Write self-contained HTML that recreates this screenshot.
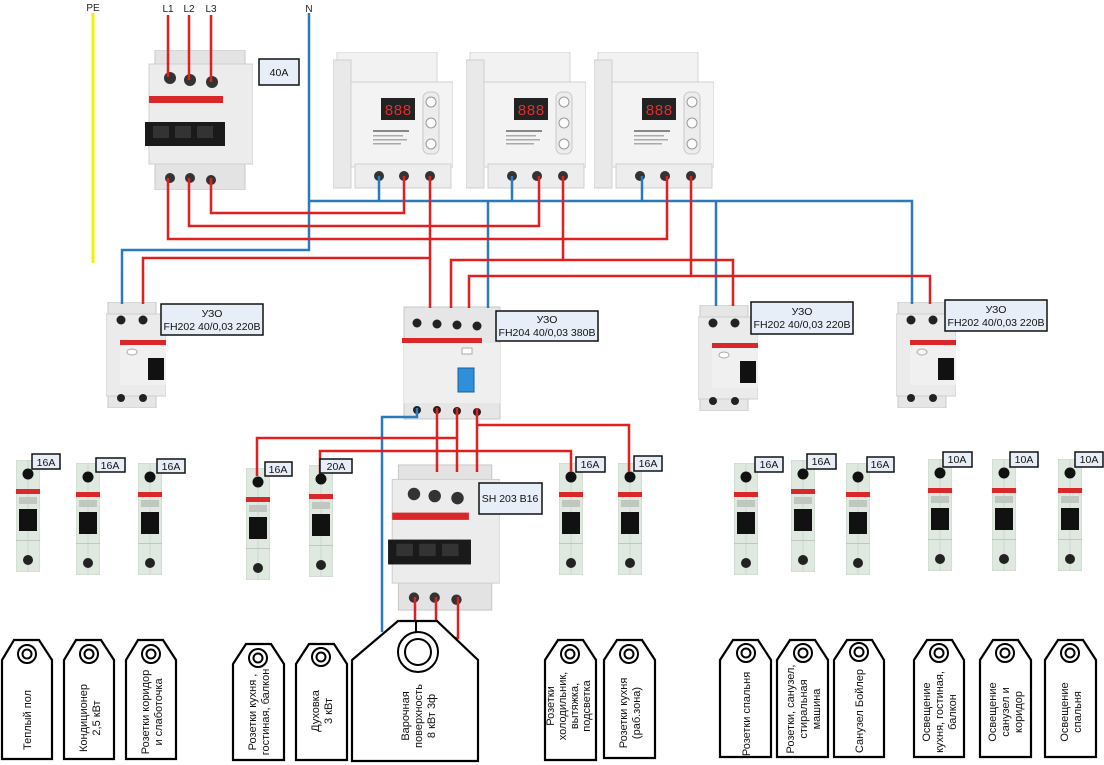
<!DOCTYPE html>
<html><head><meta charset="utf-8"><style>
html,body{margin:0;padding:0;background:#fff;}
svg{display:block;font-family:"Liberation Sans","DejaVu Sans",sans-serif;}
</style></head><body>
<svg width="1104" height="765" viewBox="0 0 1104 765" xmlns="http://www.w3.org/2000/svg">
<defs>
<symbol id="mcb" viewBox="0 0 24 112">
<rect x="0" y="0" width="24" height="112" fill="#dfe9e0"/>
<rect x="0" y="0" width="24" height="112" fill="none" stroke="#c9d3ca"/>
<line x1="12" y1="0" x2="12" y2="112" stroke="#c3cdc4" stroke-width="0.6"/>
<circle cx="12" cy="14" r="5.5" fill="#111"/>
<rect x="0" y="29" width="24" height="5" fill="#d8282a"/>
<rect x="3" y="37" width="18" height="7" fill="#bfc7c0"/>
<rect x="3" y="49" width="18" height="22" fill="#111"/>
<rect x="0" y="80" width="24" height="1" fill="#bfc7c0"/>
<circle cx="12" cy="100" r="5" fill="#222"/>
</symbol>
<symbol id="rcd" viewBox="0 0 60 106">
<rect x="2" y="0" width="48" height="106" fill="#e6e6e6" stroke="#c8c8c8"/>
<rect x="0" y="12" width="60" height="82" fill="#ebebeb" stroke="#cfcfcf"/>
<circle cx="15" cy="18" r="4.5" fill="#222"/><circle cx="37" cy="18" r="4.5" fill="#222"/>
<rect x="14" y="38" width="46" height="5" fill="#d8282a"/>
<rect x="14" y="43" width="46" height="40" fill="#f0f0f0"/>
<ellipse cx="26" cy="50" rx="5" ry="3" fill="#fff" stroke="#aaa"/>
<rect x="42" y="56" width="16" height="22" fill="#111"/>
<circle cx="15" cy="96" r="4" fill="#222"/><circle cx="37" cy="96" r="4" fill="#222"/>
</symbol>
<symbol id="relay" viewBox="0 0 120 138">
<rect x="4" y="0" width="100" height="40" fill="#f2f2f2" stroke="#d5d5d5"/>
<rect x="0" y="8" width="18" height="128" fill="#e9e9e9" stroke="#d0d0d0"/>
<rect x="18" y="30" width="102" height="85" fill="#f3f3f3" stroke="#d0d0d0"/>
<rect x="48" y="46" width="34" height="22" fill="#222"/>
<text x="65" y="63" font-size="15" fill="#e03030" text-anchor="middle" font-family="Liberation Mono,monospace">888</text>
<rect x="90" y="40" width="16" height="62" rx="6" fill="#ececec" stroke="#c8c8c8"/>
<circle cx="98" cy="50" r="5" fill="#fafafa" stroke="#999"/>
<circle cx="98" cy="71" r="5" fill="#fafafa" stroke="#999"/>
<circle cx="98" cy="92" r="5" fill="#fafafa" stroke="#999"/>
<rect x="40" y="78" width="36" height="2" fill="#888"/>
<rect x="40" y="83" width="30" height="1.5" fill="#aaa"/>
<rect x="40" y="87" width="34" height="1.5" fill="#aaa"/>
<rect x="40" y="91" width="28" height="1.5" fill="#aaa"/>
<rect x="22" y="112" width="96" height="24" fill="#ededed" stroke="#d0d0d0"/>
<circle cx="46" cy="124" r="5" fill="#333"/><circle cx="71" cy="124" r="5" fill="#333"/><circle cx="97" cy="124" r="5" fill="#333"/>
</symbol>
<symbol id="cb3" viewBox="0 0 110 140">
<rect x="12" y="0" width="90" height="140" fill="#e3e3e3" stroke="#c8c8c8"/>
<rect x="6" y="14" width="104" height="100" fill="#ececec" stroke="#cfcfcf"/>
<circle cx="27" cy="28" r="6" fill="#333"/><circle cx="47" cy="30" r="6" fill="#333"/><circle cx="69" cy="32" r="6" fill="#333"/>
<rect x="6" y="46" width="74" height="7" fill="#d8282a"/>
<rect x="2" y="72" width="80" height="24" fill="#1a1a1a"/>
<rect x="10" y="76" width="16" height="12" fill="#333"/><rect x="32" y="76" width="16" height="12" fill="#333"/><rect x="54" y="76" width="16" height="12" fill="#333"/>
<circle cx="27" cy="128" r="5" fill="#333"/><circle cx="47" cy="128" r="5" fill="#333"/><circle cx="68" cy="130" r="5" fill="#333"/>
</symbol>
</defs>

<!-- devices -->
<use href="#cb3" x="143" y="50" width="110" height="140"/>
<use href="#relay" x="333" y="52" width="120" height="138"/>
<use href="#relay" x="466" y="52" width="120" height="138"/>
<use href="#relay" x="594" y="52" width="120" height="138"/>
<use href="#rcd" x="106" y="302" width="60" height="106"/>
<use href="#rcd" x="698" y="305" width="60" height="106"/>
<use href="#rcd" x="896" y="302" width="60" height="106"/>
<!-- 4 pole RCD -->
<g>
<rect x="404" y="307" width="96" height="112" fill="#e6e6e6" stroke="#c8c8c8"/>
<circle cx="417" cy="323" r="4.5" fill="#222"/><circle cx="437" cy="324" r="4.5" fill="#222"/><circle cx="457" cy="325" r="4.5" fill="#222"/><circle cx="477" cy="326" r="4.5" fill="#222"/>
<rect x="402" y="338" width="80" height="5" fill="#d8282a"/>
<rect x="404" y="343" width="96" height="60" fill="#efefef"/>
<rect x="458" y="368" width="16" height="24" fill="#2f8fd8" stroke="#1a5f99"/>
<rect x="462" y="348" width="10" height="6" fill="#fff" stroke="#aaa"/>
<circle cx="417" cy="410" r="4" fill="#222"/><circle cx="437" cy="410" r="4" fill="#222"/><circle cx="457" cy="411" r="4" fill="#222"/><circle cx="477" cy="412" r="4" fill="#222"/>
</g>
<use href="#cb3" x="386" y="463" width="114" height="149"/>

<!-- MCBs -->
<use href="#mcb" x="16" y="460" width="24" height="112"/>
<use href="#mcb" x="76" y="463" width="24" height="112"/>
<use href="#mcb" x="138" y="463" width="24" height="112"/>
<use href="#mcb" x="246" y="468" width="24" height="112"/>
<use href="#mcb" x="309" y="465" width="24" height="112"/>
<use href="#mcb" x="559" y="463" width="24" height="112"/>
<use href="#mcb" x="618" y="463" width="24" height="112"/>
<use href="#mcb" x="734" y="463" width="24" height="112"/>
<use href="#mcb" x="791" y="460" width="24" height="112"/>
<use href="#mcb" x="846" y="463" width="24" height="112"/>
<use href="#mcb" x="928" y="459" width="24" height="112"/>
<use href="#mcb" x="992" y="459" width="24" height="112"/>
<use href="#mcb" x="1058" y="459" width="24" height="112"/>

<!-- wires -->
<g fill="none" stroke-width="2.5" stroke-linejoin="miter">
<path d="M93,13 V263" stroke="#f5f000" stroke-width="3"/>
<g stroke="#2a7abf">
<path d="M309,13 V250 H122 V304"/>
<path d="M309,201 H912 V304"/>
<path d="M379,176 V201 M512,176 V201 M642,176 V201"/>
<path d="M488,201 V308 M716,201 V306"/>
<path d="M417,408 V417 H382 V632"/>
</g>
<g stroke="#e02020">
<path d="M168,15 V77 M189,15 V80 M211,15 V82"/>
<path d="M168,178 V239 H667 V176"/>
<path d="M189,178 V226 H539 V176"/>
<path d="M211,178 V213 H404 V176"/>
<path d="M430,176 V308 M430,258 H143 V304"/>
<path d="M563,176 V260 M451,308 V260 H733 V306"/>
<path d="M691,176 V276 M469,308 V276 H930 V304"/>
<path d="M437,408 V472 M457,408 V472 M477,408 V472"/>
<path d="M257,476 V438 H457"/>
<path d="M320,474 V451 H571 V472"/>
<path d="M477,425 H629 V472"/>
<path d="M436,597 V621 M458,597 V638 H453"/>
</g>
</g>
<path d="M415,597 V632" stroke="#e02020" stroke-width="2.5"/>

<!-- labels top -->
<g font-size="10" fill="#222" text-anchor="middle">
<text x="93" y="11">PE</text><text x="168" y="12">L1</text><text x="189" y="12">L2</text><text x="211" y="12">L3</text><text x="309" y="12">N</text>
</g>
<g stroke="#111" stroke-width="1.5" fill="#e8eef7">
<rect x="259" y="59" width="40" height="26"/>
<rect x="161" y="304" width="102" height="31"/>
<rect x="496" y="311" width="102" height="30"/>
<rect x="751" y="302" width="102" height="32"/>
<rect x="945" y="300" width="102" height="31"/>
<rect x="479" y="483" width="63" height="31"/>
<rect x="32" y="454" width="28" height="15"/>
<rect x="96" y="458" width="29" height="14"/>
<rect x="157" y="459" width="28" height="14"/>
<rect x="265" y="462" width="27" height="14"/>
<rect x="320" y="459" width="32" height="14"/>
<rect x="576" y="457" width="29" height="15"/>
<rect x="634" y="456" width="28" height="15"/>
<rect x="755" y="457" width="28" height="15"/>
<rect x="807" y="454" width="29" height="15"/>
<rect x="867" y="457" width="27" height="15"/>
<rect x="943" y="452" width="29" height="15"/>
<rect x="1010" y="452" width="28" height="15"/>
<rect x="1075" y="452" width="28" height="15"/>
</g>
<g font-size="10.5" fill="#111" text-anchor="middle">
<text x="279" y="76">40A</text>
<text x="212" y="317">УЗО</text><text x="212" y="330">FH202 40/0,03 220В</text>
<text x="547" y="323">УЗО</text><text x="547" y="336">FH204 40/0,03 380В</text>
<text x="802" y="315">УЗО</text><text x="802" y="328">FH202 40/0,03 220В</text>
<text x="996" y="313">УЗО</text><text x="996" y="326">FH202 40/0,03 220В</text>
<text x="510" y="502">SH 203 B16</text>
<text x="46" y="466">16A</text><text x="110" y="469">16A</text><text x="171" y="470">16A</text>
<text x="278" y="473">16A</text><text x="336" y="470">20A</text>
<text x="590" y="468">16A</text><text x="648" y="467">16A</text>
<text x="769" y="468">16A</text><text x="821" y="465">16A</text><text x="880" y="468">16A</text>
<text x="957" y="463">10A</text><text x="1024" y="463">10A</text><text x="1089" y="463">10A</text>
</g>

<!-- tags -->
<g fill="#fff" stroke="#000" stroke-width="2.2">
<path d="M2,759 V660 L14,640 H39 L52,660 V759 Z"/>
<path d="M64,759 V660 L76,640 H101 L114,660 V759 Z"/>
<path d="M126,759 V660 L138,640 H163 L176,660 V759 Z"/>
<path d="M233,760 V664 L246,644 H271 L284,664 V760 Z"/>
<path d="M296,760 V664 L309,644 H334 L347,664 V760 Z"/>
<path d="M352,761 V660 L398,621 H437 L478,660 V761 Z"/>
<path d="M545,760 V660 L558,640 H583 L596,660 V760 Z"/>
<path d="M604,758 V660 L617,640 H642 L655,660 V758 Z"/>
<path d="M720,757 V660 L733,640 H758 L771,660 V757 Z"/>
<path d="M777,757 V660 L790,640 H815 L828,660 V757 Z"/>
<path d="M834,757 V660 L847,640 H872 L884,660 V757 Z"/>
<path d="M914,757 V660 L927,640 H952 L964,660 V757 Z"/>
<path d="M980,757 V660 L993,640 H1018 L1031,660 V757 Z"/>
<path d="M1045,757 V660 L1058,640 H1083 L1096,660 V757 Z"/>
</g>
<g fill="none" stroke="#000" stroke-width="2">
<circle cx="27" cy="654" r="9"/><circle cx="27" cy="654" r="4.5"/>
<circle cx="89" cy="654" r="9"/><circle cx="89" cy="654" r="4.5"/>
<circle cx="151" cy="654" r="9"/><circle cx="151" cy="654" r="4.5"/>
<circle cx="258" cy="658" r="9"/><circle cx="258" cy="658" r="4.5"/>
<circle cx="321" cy="657" r="9"/><circle cx="321" cy="657" r="4.5"/>
<circle cx="418" cy="652" r="20"/><circle cx="418" cy="652" r="13"/>
<line x1="416" y1="621" x2="416" y2="632"/>
<circle cx="570" cy="654" r="9"/><circle cx="570" cy="654" r="4.5"/>
<circle cx="629" cy="654" r="9"/><circle cx="629" cy="654" r="4.5"/>
<circle cx="746" cy="653" r="9"/><circle cx="746" cy="653" r="4.5"/>
<circle cx="803" cy="653" r="9"/><circle cx="803" cy="653" r="4.5"/>
<circle cx="859" cy="652" r="9"/><circle cx="859" cy="652" r="4.5"/>
<circle cx="939" cy="653" r="9"/><circle cx="939" cy="653" r="4.5"/>
<circle cx="1005" cy="653" r="9"/><circle cx="1005" cy="653" r="4.5"/>
<circle cx="1070" cy="653" r="9"/><circle cx="1070" cy="653" r="4.5"/>
</g>
<g font-size="11" fill="#111" text-anchor="middle">
<text transform="translate(27,720) rotate(-90)"><tspan x="0" dy="4">Теплый пол</tspan></text>
<text transform="translate(89,718) rotate(-90)"><tspan x="0" dy="-2">Кондиционер</tspan><tspan x="0" dy="13">2,5 кВт</tspan></text>
<text transform="translate(151,712) rotate(-90)"><tspan x="0" dy="-2">Розетки коридор</tspan><tspan x="0" dy="13">и слаботочка</tspan></text>
<text transform="translate(258,712) rotate(-90)"><tspan x="0" dy="-2">Розетки кухня ,</tspan><tspan x="0" dy="13">гостиная, балкон</tspan></text>
<text transform="translate(321,711) rotate(-90)"><tspan x="0" dy="-2">Духовка</tspan><tspan x="0" dy="13">3 кВт</tspan></text>
<text transform="translate(418,716) rotate(-90)"><tspan x="0" dy="-9">Варочная</tspan><tspan x="0" dy="13">поверхность</tspan><tspan x="0" dy="13">8 кВт 3ф</tspan></text>
<text transform="translate(570,706) rotate(-90)"><tspan x="0" dy="-16">Розетки</tspan><tspan x="0" dy="12">холодильник,</tspan><tspan x="0" dy="12">вытяжка,</tspan><tspan x="0" dy="12">подсветка</tspan></text>
<text transform="translate(629,713) rotate(-90)"><tspan x="0" dy="-2">Розетки кухня</tspan><tspan x="0" dy="13">(раб.зона)</tspan></text>
<text transform="translate(746,714) rotate(-90)"><tspan x="0" dy="4">Розетки спальня</tspan></text>
<text transform="translate(803,709) rotate(-90)"><tspan x="0" dy="-9">Розетки, санузел,</tspan><tspan x="0" dy="13">стиральная</tspan><tspan x="0" dy="13">машина</tspan></text>
<text transform="translate(859,711) rotate(-90)"><tspan x="0" dy="4">Санузел Бойлер</tspan></text>
<text transform="translate(939,712) rotate(-90)"><tspan x="0" dy="-9">Освещение</tspan><tspan x="0" dy="13">кухня, гостиная,</tspan><tspan x="0" dy="13">балкон</tspan></text>
<text transform="translate(1005,712) rotate(-90)"><tspan x="0" dy="-9">Освещение</tspan><tspan x="0" dy="13">санузел и</tspan><tspan x="0" dy="13">коридор</tspan></text>
<text transform="translate(1070,712) rotate(-90)"><tspan x="0" dy="-2">Освещение</tspan><tspan x="0" dy="13">спальня</tspan></text>
</g>
</svg>
</body></html>
